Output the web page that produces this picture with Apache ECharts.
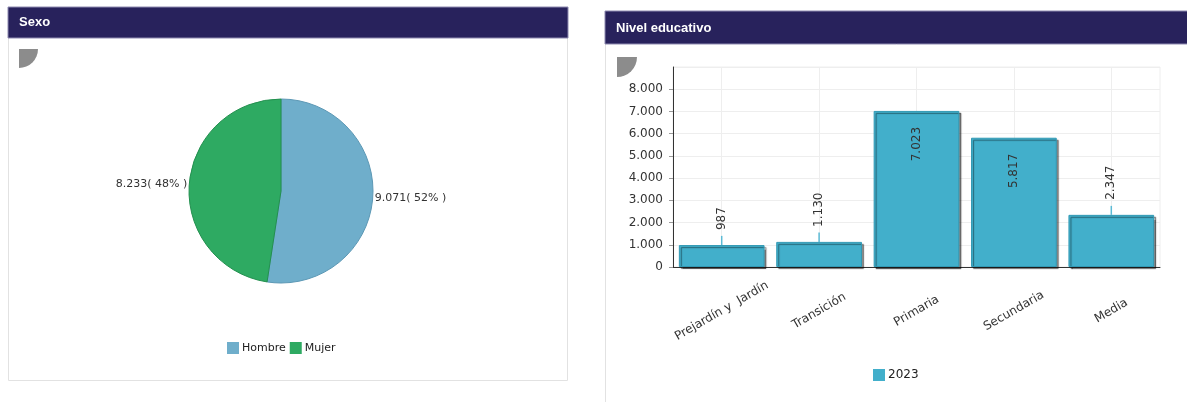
<!DOCTYPE html>
<html>
<head>
<meta charset="utf-8">
<script src="https://cdn.jsdelivr.net/npm/echarts@6/dist/echarts.min.js"></script>
<style>
  html, body { margin: 0; padding: 0; background: #fff; }
  #chart { width: 1187px; height: 402px; }
</style>
</head>
<body>
<div id="chart"></div>
<script>
// Sexo
const sexLabels = ['Hombre', 'Mujer']
const sexValues = [9071, 8233]
const sexColors = ['#6FAECB', '#2EAA62']
const sexBorders = ['#5C98B5', '#23904F']

// Nivel educativo
const levels = ['Prejardín y  Jardín', 'Transición', 'Primaria', 'Secundaria', 'Media']
const levelValues = [987, 1130, 7023, 5817, 2347]
const levelErrHigh = [1400, 1550, null, null, 2750]
const seriesName = '2023'
const yTicks = [0, 1000, 2000, 3000, 4000, 5000, 6000, 7000, 8000, 9000]

const NAVY = '#28225C'
const BAR = '#42AFCB'
const TXT = '#333333'
const FONT = 'DejaVu Sans'
const GRIDLINE = '#EEEEEE'

function fmt(n) {
  return String(n).replace(/\B(?=(\d{3})+(?!\d))/g, '.')
}

const chart = echarts.init(document.getElementById('chart'), null, { renderer: 'canvas' })

const barData = levelValues.map((v) => {
  const inside = v > 4000
  return {
    value: v,
    label: inside
      ? { position: 'insideTop', distance: 16, align: 'right' }
      : { position: 'top', distance: 15, align: 'left' },
  }
})

const option = {
  animation: false,
  textStyle: { fontFamily: FONT },
  graphic: [
    // left panel
    { type: 'rect', shape: { x: 8.5, y: 7.5, width: 559, height: 373 }, style: { fill: '#fff', stroke: '#E2E2E2', lineWidth: 1 }, z: -10 },
    { type: 'rect', shape: { x: 8, y: 7, width: 560, height: 31 }, style: { fill: NAVY, stroke: '#8E8AB0', lineWidth: 1 } },
    { type: 'text', x: 19, y: 22, style: { text: 'Sexo', fill: '#fff', font: 'bold 13px "Liberation Sans"', verticalAlign: 'middle' } },
    { type: 'sector', shape: { cx: 19, cy: 49, r: 19, startAngle: 0, endAngle: Math.PI / 2 }, style: { fill: '#8C8C8C' } },
    // right panel
    { type: 'rect', shape: { x: 605.5, y: 11.5, width: 600, height: 420 }, style: { fill: '#fff', stroke: '#E2E2E2', lineWidth: 1 }, z: -10 },
    { type: 'rect', shape: { x: 605, y: 11, width: 600, height: 33 }, style: { fill: NAVY, stroke: '#8E8AB0', lineWidth: 1 } },
    { type: 'text', x: 616, y: 28, style: { text: 'Nivel educativo', fill: '#fff', font: 'bold 13px "Liberation Sans"', verticalAlign: 'middle' } },
    { type: 'sector', shape: { cx: 617, cy: 57, r: 20, startAngle: 0, endAngle: Math.PI / 2 }, style: { fill: '#8C8C8C' } },
  ],
  legend: [
    {
      data: sexLabels,
      left: 222,
      top: 337,
      itemWidth: 12,
      itemHeight: 12,
      itemGap: 4,
      icon: 'rect',
      itemStyle: { borderWidth: 0 },
      textStyle: { color: '#222', fontSize: 11, fontFamily: FONT, padding: [0, 0, 0, -2] },
    },
    {
      data: [seriesName],
      left: 868,
      top: 364,
      itemWidth: 12,
      itemHeight: 12,
      icon: 'rect',
      itemStyle: { borderWidth: 0 },
      textStyle: { color: '#222', fontSize: 12, fontFamily: FONT, padding: [0, 0, 0, -2] },
    },
  ],
  grid: { left: 673, right: 27, top: 67, bottom: 135, show: true, borderColor: GRIDLINE, borderWidth: 1 },
  xAxis: [
    {
      type: 'category',
      data: levels,
      axisLine: { lineStyle: { color: '#333', width: 1 } },
      axisTick: { alignWithLabel: true, length: 5, lineStyle: { color: '#333' } },
      splitLine: { show: false },
      axisLabel: {
        interval: 0,
        rotate: 30,
        align: 'center',
        verticalAlign: 'middle',
        margin: 44,
        color: TXT,
        fontSize: 12,
        fontFamily: FONT,
      },
    },
    {
      // helper axis: vertical grid lines through the category centres
      type: 'value',
      position: 'bottom',
      min: 0,
      max: 10,
      interval: 1,
      axisLine: { show: false },
      axisTick: { show: false },
      axisLabel: { show: false },
      splitLine: { show: true, lineStyle: { color: ['rgba(0,0,0,0)', GRIDLINE] } },
    },
  ],
  yAxis: {
    type: 'value',
    min: 0,
    max: 9000,
    interval: 1000,
    axisLine: { show: true, lineStyle: { color: '#333' } },
    axisTick: { show: true, length: 4, lineStyle: { color: '#999' } },
    splitLine: { lineStyle: { color: GRIDLINE } },
    axisLabel: {
      color: TXT,
      fontSize: 12,
      fontFamily: FONT,
      margin: 10,
      showMaxLabel: false,
      formatter: (v) => (yTicks.includes(v) ? fmt(v) : ''),
    },
  },
  series: [
    {
      type: 'pie',
      center: [281, 191],
      radius: 92,
      startAngle: 90,
      clockwise: true,
      legendHoverLink: false,
      data: sexLabels.map((n, i) => ({
        name: n,
        value: sexValues[i],
        itemStyle: { color: sexColors[i], borderColor: sexBorders[i], borderWidth: 1 },
      })),
      label: {
        show: true,
        position: 'outside',
        color: TXT,
        fontSize: 11,
        fontFamily: FONT,
        distanceToLabelLine: 2,
        formatter: (p) => fmt(p.value) + '( ' + Math.round(p.percent) + '% )',
      },
      labelLine: { show: false, length: 0, length2: 0 },
    },
    {
      name: seriesName,
      type: 'bar',
      barCategoryGap: '12%',
      itemStyle: {
        color: BAR,
        borderColor: '#3199B4',
        borderWidth: 1,
        shadowColor: 'rgba(0,0,0,0.45)',
        shadowOffsetX: 2,
        shadowOffsetY: 2,
        shadowBlur: 1,
      },
      label: {
        show: true,
        rotate: 90,
        verticalAlign: 'middle',
        color: TXT,
        fontSize: 12,
        fontFamily: FONT,
        formatter: (p) => fmt(p.value),
      },
      data: barData,
      z: 2,
    },
    {
      type: 'custom',
      name: 'err',
      data: levelValues.map((v, i) => [i, v, levelErrHigh[i]]),
      renderItem: (params, api) => {
        const hi = api.value(2)
        if (!hi) return null
        const p0 = api.coord([api.value(0), api.value(1)])
        const p1 = api.coord([api.value(0), hi])
        return {
          type: 'line',
          shape: { x1: p0[0], y1: p0[1], x2: p1[0], y2: p1[1] },
          style: { stroke: '#5BBAD5', lineWidth: 1.5 },
        }
      },
      z: 3,
    },
  ],
}

chart.setOption(option)
</script>
</body>
</html>
